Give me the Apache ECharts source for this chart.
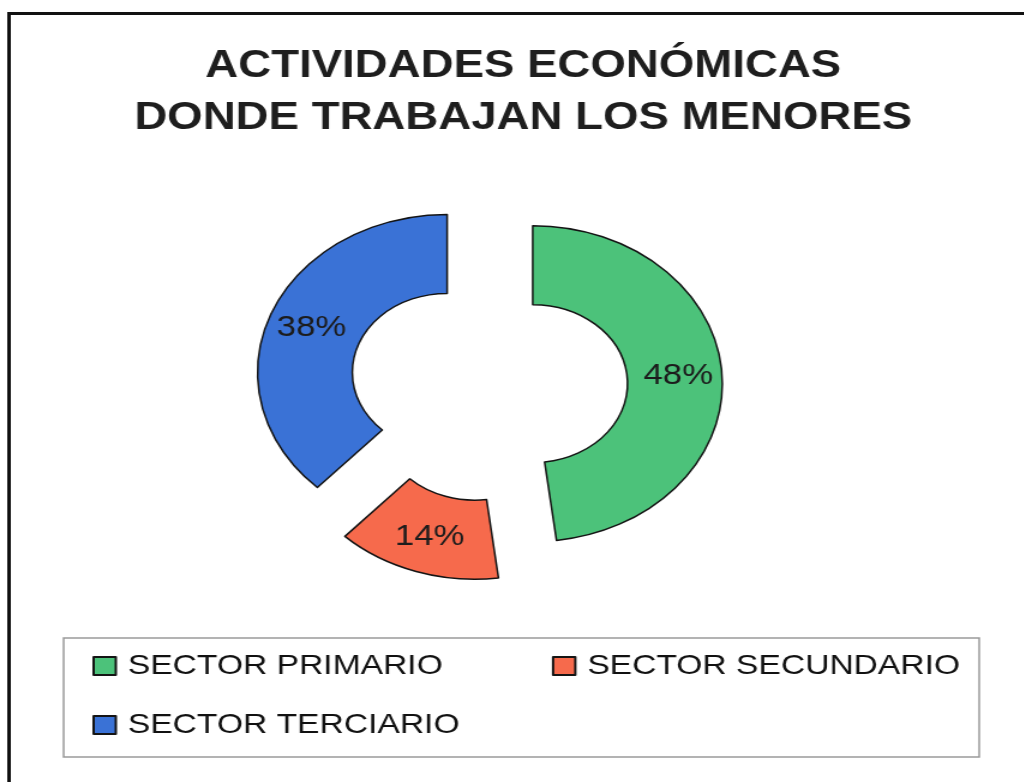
<!DOCTYPE html>
<html>
<head>
<meta charset="utf-8">
<title>Actividades económicas</title>
<script src="https://cdn.jsdelivr.net/npm/echarts@6/dist/echarts.min.js"></script>
<style>
    html, body { margin: 0; padding: 0; background: #fff; overflow: hidden; }
    /* the original picture is stretched sideways, so the chart is too */
    #wrap { width: 1024px; height: 782px; overflow: hidden; }
    #grafico { width: 853px; height: 782px; transform: scaleX(1.2); transform-origin: 0 0; }
</style>
</head>
<body>
<div id="wrap"><div id="grafico"></div></div>
<script>
//datos
var sectores = ['SECTOR PRIMARIO', 'SECTOR SECUNDARIO', 'SECTOR TERCIARIO'];
var porcentajes = [48, 14, 38];
var colores = ['#4cc27a', '#f66a4c', '#3a72d6'];

var fuente = '"Liberation Sans", Arial, sans-serif';
var borde = '#141414';

var datos = [];
for (var i = 0; i < sectores.length; i++) {
    var item = {
        name: sectores[i],
        value: porcentajes[i],
        selected: true,
        itemStyle: { color: colores[i] }
    };
    if (i == 2) {
        // la etiqueta del 38% esta mas abajo en el original
        item.label = { offset: [-24, 38] };
    }
    datos.push(item);
}

//estilo comun de la leyenda
var leyendaBase = {
    left: 77,
    padding: 0,
    itemWidth: 18.5,
    itemHeight: 18,
    icon: 'rect',
    selectedMode: false,
    textStyle: { fontFamily: fuente, fontSize: 28, lineHeight: 30, color: '#111', padding: [0, 0, 0, 5] }
};

var myChart = echarts.init(document.getElementById('grafico'), null, { renderer: 'canvas' });
var option = {
    animation: false,
    backgroundColor: '#fff',
    title: {
        text: 'ACTIVIDADES ECONÓMICAS\nDONDE TRABAJAN LOS MENORES',
        left: 436,
        top: 41,
        padding: 0,
        textAlign: 'center',
        textStyle: {
            fontFamily: fuente,
            fontWeight: 'bold',
            fontSize: 38,
            lineHeight: 52,
            color: '#1e1e1e'
        }
    },
    legend: [
        echarts.util.merge({ data: sectores.slice(0, 2), top: 651, itemGap: 91 }, leyendaBase),
        echarts.util.merge({ data: sectores.slice(2), top: 710 }, leyendaBase)
    ],
    graphic: [{
        // marco exterior
        type: 'rect',
        shape: { x: 7.5, y: 13.5, width: 900, height: 800 },
        style: { fill: 'none', stroke: '#111', lineWidth: 3 },
        silent: true
    }, {
        // marco de la leyenda
        type: 'rect',
        shape: { x: 53, y: 638, width: 763, height: 119 },
        style: { fill: 'none', stroke: '#9a9a9a', lineWidth: 1.5 },
        silent: true
    }],
    series: [{
        type: 'pie',
        center: [407, 386],
        radius: [79, 158],
        startAngle: 90,
        clockwise: true,
        selectedMode: 'multiple',
        selectedOffset: 37,
        avoidLabelOverlap: false,
        itemStyle: { borderColor: borde, borderWidth: 1.5 },
        select: { itemStyle: { borderColor: borde, borderWidth: 1.5 } },
        emphasis: { disabled: true, scale: false },
        label: {
            show: true,
            position: 'inside',
            formatter: '{c}%',
            fontFamily: fuente,
            fontSize: 29,
            color: '#1c1c1c'
        },
        labelLine: { show: false },
        data: datos
    }]
};
myChart.setOption(option);
</script>
</body>
</html>
